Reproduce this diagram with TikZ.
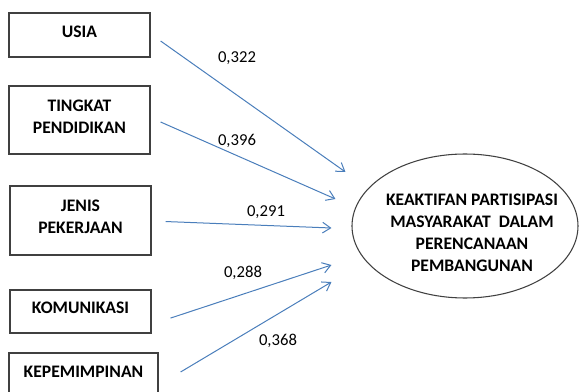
\documentclass[tikz,border=0pt]{standalone}
\usepackage{fontspec}
\setmainfont{Carlito}
\usetikzlibrary{positioning,arrows.meta,shapes.geometric}
\definecolor{linkblue}{RGB}{74,126,187}
\definecolor{boxgray}{RGB}{64,64,64}
\begin{document}
\begin{tikzpicture}[
  x=0.75pt, y=-0.75pt,
  block/.style={rectangle, draw=boxgray, line width=0.9pt, minimum width=105.75pt, inner sep=0pt, text depth=5pt, font=\fontsize{13.2}{16.5}\selectfont\bfseries, align=center},
  target/.style={ellipse, draw=black!75, line width=0.8pt, minimum width=169.5pt, minimum height=108pt, inner sep=0pt},
  targettext/.style={font=\fontsize{13.2}{16.5}\selectfont\bfseries, align=center, inner sep=0pt},
  weight/.style={font=\fontsize{12.5}{15}\selectfont, inner sep=0pt},
  link/.style={-{Straight Barb[length=6pt,width=8pt]}, draw=linkblue, line width=0.75pt},
  node distance=2cm
]
\useasboundingbox (0,0) rectangle (579,392);
\node[block, minimum height=33pt] (usia) at (79.5,35) {USIA};
\node[block, minimum height=51pt, below of=usia, node distance=63.75pt] (pendidikan) {TINGKAT\\PENDIDIKAN};
\node[block, minimum height=51.75pt, below of=pendidikan, node distance=75.4pt, xshift=0.75pt] (pekerjaan) {JENIS\\PEKERJAAN};
\node[block, minimum height=32.25pt, below of=pekerjaan, node distance=68.25pt] (komunikasi) {KOMUNIKASI};
\node[block, minimum height=33pt, minimum width=111.75pt, below of=komunikasi, node distance=47.6pt, xshift=2.25pt] (kepemimpinan) {KEPEMIMPINAN};
\node[target] (partisipasi) at (465,226) {};
\node[targettext] (partisipasitext) at ([xshift=5.25pt,yshift=-5.25pt]partisipasi.center) {KEAKTIFAN PARTISIPASI\\MASYARAKAT\ \ DALAM\\PERENCANAAN\\PEMBANGUNAN};

\node[weight] (w_usia) at (237,58) {0,322};
\node[weight] (w_pendidikan) at (237,141) {0,396};
\node[weight] (w_pekerjaan) at (266,212) {0,291};
\node[weight] (w_komunikasi) at (243,273) {0,288};
\node[weight] (w_kepemimpinan) at (278,341) {0,368};

\draw[link] ([xshift=7.5pt,yshift=-4.5pt]usia.east) -- ([xshift=-4.5pt,yshift=40.5pt]partisipasi.west);
\draw[link] ([xshift=7.5pt,yshift=-1.5pt]pendidikan.east) -- ([xshift=-12pt,yshift=20.25pt]partisipasi.west);
\draw[link] ([xshift=10.5pt,yshift=-0.75pt]pekerjaan.east) -- ([xshift=-15pt,yshift=-1.5pt]partisipasi.west);
\draw[link] ([xshift=14.25pt,yshift=-4.9pt]komunikasi.east) -- ([xshift=-15pt,yshift=-29.25pt]partisipasi.west);
\draw[link] ([xshift=16.5pt,yshift=2.25pt]kepemimpinan.east) -- ([xshift=-15pt,yshift=-42pt]partisipasi.west);
\end{tikzpicture}
\end{document}
